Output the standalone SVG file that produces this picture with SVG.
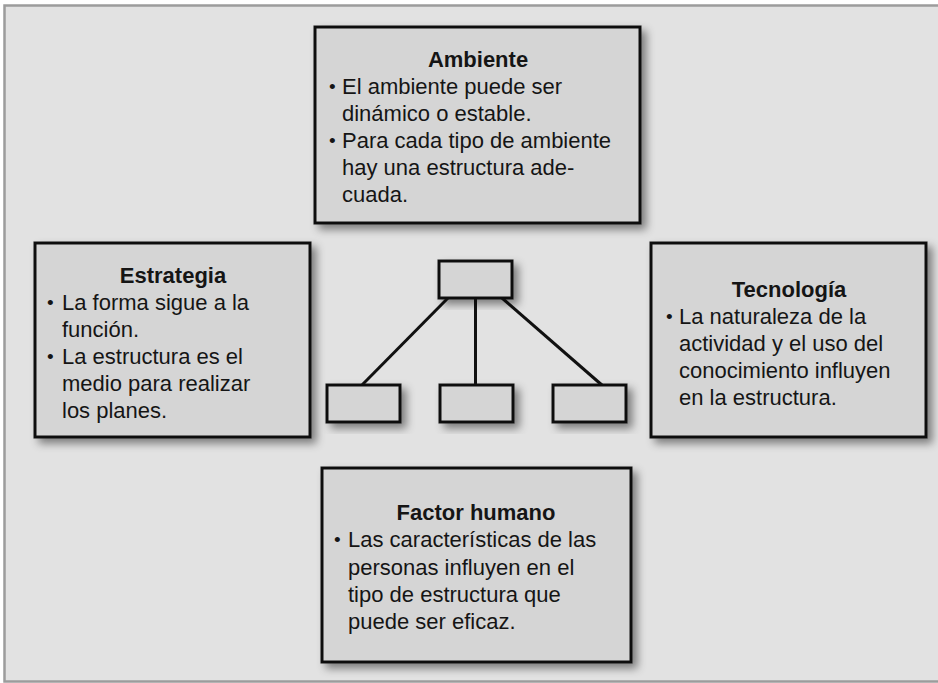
<svg xmlns="http://www.w3.org/2000/svg" width="938" height="683" viewBox="0 0 938 683">
<defs>
<filter id="sh" x="-20%" y="-20%" width="150%" height="150%">
<feDropShadow dx="5" dy="5" stdDeviation="4" flood-color="#000" flood-opacity="0.45"/>
</filter>
<style>
.box{fill:#d5d5d5;stroke:#111;stroke-width:3;filter:url(#sh)}
.t{font-family:"Liberation Sans",Arial,sans-serif;font-size:22px;fill:#151515}
.b{font-family:"Liberation Sans",Arial,sans-serif;font-size:19px;fill:#151515}
.h{font-weight:bold;text-anchor:middle}
.ln{stroke:#111;stroke-width:3;fill:none}
</style>
</defs>
<rect x="4.5" y="5.5" width="950" height="676" fill="#e2e2e2" stroke="#9c9c9c" stroke-width="2.5"/>

<g id="ambiente">
<rect class="box" x="315" y="27" width="325" height="196"/>
<text class="t h" x="478" y="67">Ambiente</text>
<text class="b" x="329" y="93">•</text><text class="t" x="342" y="94">El ambiente puede ser</text>
<text class="t" x="342" y="121">dinámico o estable.</text>
<text class="b" x="329" y="147">•</text><text class="t" x="342" y="148">Para cada tipo de ambiente</text>
<text class="t" x="342" y="175">hay una estructura ade-</text>
<text class="t" x="342" y="202">cuada.</text>
</g>

<g id="estrategia">
<rect class="box" x="35" y="243" width="275" height="194"/>
<text class="t h" x="173" y="283">Estrategia</text>
<text class="b" x="47" y="309">•</text><text class="t" x="62" y="310">La forma sigue a la</text>
<text class="t" x="62" y="337">función.</text>
<text class="b" x="47" y="363">•</text><text class="t" x="62" y="364">La estructura es el</text>
<text class="t" x="62" y="391">medio para realizar</text>
<text class="t" x="62" y="418">los planes.</text>
</g>

<g id="tecnologia">
<rect class="box" x="651" y="243" width="275" height="194"/>
<text class="t h" x="789" y="297">Tecnología</text>
<text class="b" x="666" y="323">•</text><text class="t" x="679" y="324">La naturaleza de la</text>
<text class="t" x="679" y="351">actividad y el uso del</text>
<text class="t" x="679" y="378">conocimiento influyen</text>
<text class="t" x="679" y="405">en la estructura.</text>
</g>

<g id="factor-humano">
<rect class="box" x="322" y="468" width="309" height="194"/>
<text class="t h" x="476" y="520">Factor humano</text>
<text class="b" x="334" y="546">•</text><text class="t" x="348" y="547">Las características de las</text>
<text class="t" x="348" y="575">personas influyen en el</text>
<text class="t" x="348" y="602">tipo de estructura que</text>
<text class="t" x="348" y="629">puede ser eficaz.</text>
</g>

<g id="connectors">
<line class="ln" x1="448" y1="298" x2="361" y2="386"/>
<line class="ln" x1="475.5" y1="298" x2="475.5" y2="386" stroke-width="4"/>
<line class="ln" x1="502" y1="298" x2="603" y2="386"/>
</g>

<g id="org-top"><rect class="box" x="439" y="261" width="73" height="37"/></g>
<g id="org-left"><rect class="box" x="327" y="385" width="73" height="37"/></g>
<g id="org-mid"><rect class="box" x="440" y="385" width="73" height="37"/></g>
<g id="org-right"><rect class="box" x="553" y="385" width="73" height="37"/></g>
</svg>
